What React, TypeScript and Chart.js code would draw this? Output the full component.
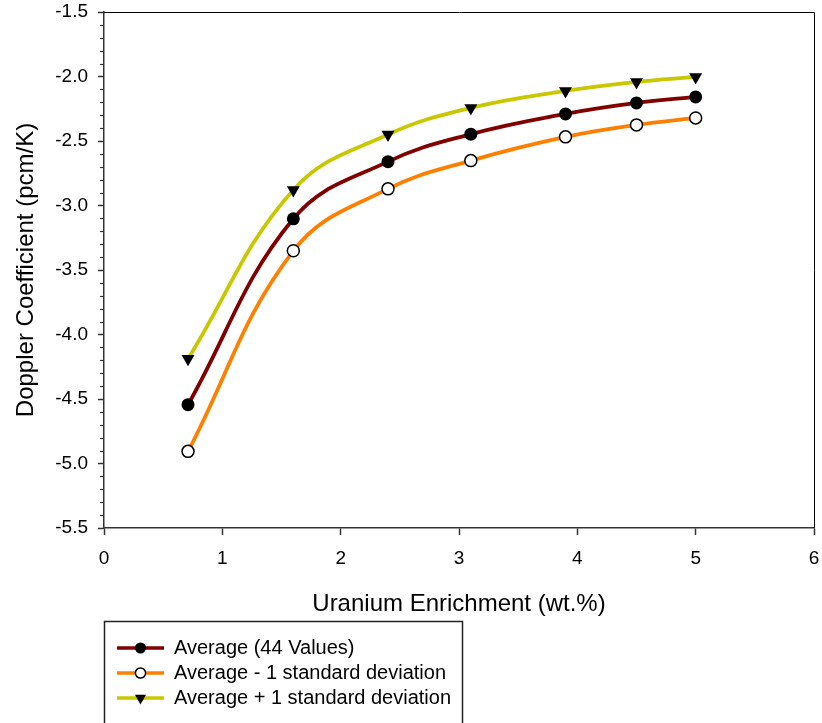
import React, { useEffect, useRef } from "react";
import { Chart, registerables } from "chart.js";

Chart.register(...registerables);

const enrichment = [0.71, 1.6, 2.4, 3.1, 3.9, 4.5, 5.0];
const averageValues = [-4.544, -3.103, -2.66, -2.447, -2.29, -2.205, -2.158];
const minusSdValues = [-4.906, -3.351, -2.871, -2.652, -2.468, -2.375, -2.321];
const plusSdValues = [-4.188, -2.879, -2.45, -2.244, -2.112, -2.042, -2.003];
const seriesLabels = [
  "Average (44 Values)",
  "Average - 1 standard deviation",
  "Average + 1 standard deviation",
];
const xTitle = "Uranium Enrichment (wt.%)";
const yTitle = "Doppler Coefficient (pcm/K)";

const FONT = "'Liberation Sans', Arial, Helvetica, sans-serif";

const COLORS = ["#800000", "#FF8000", "#C8C800"];

function drawMarker(ctx: CanvasRenderingContext2D, kind: number, x: number, y: number, scale: number) {
  ctx.save();
  ctx.lineWidth = 1.5;
  ctx.strokeStyle = "#000";
  if (kind === 0) {
    ctx.beginPath();
    ctx.arc(x, y, 6.5 * scale, 0, Math.PI * 2);
    ctx.fillStyle = "#000";
    ctx.fill();
  } else if (kind === 1) {
    ctx.beginPath();
    ctx.arc(x, y, 6 * scale, 0, Math.PI * 2);
    ctx.fillStyle = "#fff";
    ctx.fill();
    ctx.stroke();
  } else {
    const r = 7.5 * scale;
    ctx.beginPath();
    ctx.moveTo(x - r * Math.sin(Math.PI / 3), y - r / 2);
    ctx.lineTo(x + r * Math.sin(Math.PI / 3), y - r / 2);
    ctx.lineTo(x, y + r);
    ctx.closePath();
    ctx.fillStyle = "#000";
    ctx.fill();
  }
  ctx.restore();
}

const framePlugin = {
  id: "framePlugin",
  afterDraw(chart: any) {
    const { ctx, chartArea } = chart;
    const y = chart.scales.y;
    ctx.save();
    ctx.strokeStyle = "#000";
    ctx.lineWidth = 1;
    ctx.beginPath();
    ctx.moveTo(chartArea.left, chartArea.top + 0.5);
    ctx.lineTo(chartArea.right + 0.5, chartArea.top + 0.5);
    ctx.lineTo(chartArea.right + 0.5, chartArea.bottom);
    ctx.stroke();
    ctx.strokeStyle = "#333";
    ctx.lineWidth = 1.2;
    for (let k = 0; k <= 40; k++) {
      if (k % 5 === 0) continue;
      const v = -5.5 + k * 0.1;
      const py = Math.round(y.getPixelForValue(v)) + 0.5;
      ctx.beginPath();
      ctx.moveTo(chartArea.left - 4, py);
      ctx.lineTo(chartArea.left, py);
      ctx.stroke();
    }
    const bx = 104.5;
    const by = 621.5;
    ctx.strokeStyle = "#222";
    ctx.lineWidth = 1.5;
    ctx.strokeRect(bx, by, 358, 140);
    const rows = [648, 673, 698];
    [0, 1, 2].forEach((i, r) => {
      const ry = rows[r];
      ctx.strokeStyle = COLORS[i];
      ctx.lineWidth = 3.5;
      ctx.beginPath();
      ctx.moveTo(117, ry);
      ctx.lineTo(164, ry);
      ctx.stroke();
      drawMarker(ctx, i, 140.5, ry, 0.85);
      ctx.fillStyle = "#000";
      ctx.font = `20px ${FONT}`;
      ctx.textBaseline = "middle";
      ctx.textAlign = "left";
      ctx.fillText(seriesLabels[i], 174, ry);
    });
    ctx.restore();
  },
};

export default function App() {
  const ref = useRef<HTMLCanvasElement | null>(null);
  useEffect(() => {
    if (!ref.current) return;
    const mk = (data: number[]) => data.map((v, i) => ({ x: enrichment[i], y: v }));
    const chart = new Chart(ref.current, {
      type: "line",
      data: {
        datasets: [
          {
            label: seriesLabels[2],
            data: mk(plusSdValues),
            borderColor: COLORS[2],
            borderWidth: 3.8,
            tension: 0.4,
            pointStyle: "triangle",
            pointRotation: 180,
            pointRadius: 7.5,
            pointBackgroundColor: "#000",
            pointBorderColor: "#000",
            pointBorderWidth: 0,
          },
          {
            label: seriesLabels[0],
            data: mk(averageValues),
            borderColor: COLORS[0],
            borderWidth: 3.8,
            tension: 0.4,
            pointStyle: "circle",
            pointRadius: 6.5,
            pointBackgroundColor: "#000",
            pointBorderColor: "#000",
            pointBorderWidth: 0,
          },
          {
            label: seriesLabels[1],
            data: mk(minusSdValues),
            borderColor: COLORS[1],
            borderWidth: 3.8,
            tension: 0.4,
            pointStyle: "circle",
            pointRadius: 6,
            pointBackgroundColor: "#fff",
            pointBorderColor: "#000",
            pointBorderWidth: 1.5,
          },
        ],
      },
      options: {
        animation: false,
        responsive: false,
        maintainAspectRatio: false,
        layout: { padding: { left: 0, right: 8, top: 12, bottom: 100 } },
        plugins: {
          legend: { display: false },
          tooltip: { enabled: false },
        },
        scales: {
          x: {
            type: "linear",
            min: 0,
            max: 6,
            afterFit: (s: any) => {
              s.height = 95;
              s.paddingLeft = 0;
              s.paddingRight = 0;
              s.paddingTop = 0;
              s.paddingBottom = 0;
            },
            ticks: {
              stepSize: 1,
              color: "#000",
              padding: 12,
              font: { family: FONT, size: 19 },
              maxRotation: 0,
            },
            grid: {
              drawOnChartArea: false,
              drawTicks: true,
              tickLength: 7,
              tickColor: "#333",
              tickWidth: 1.5,
            },
            border: { display: true, color: "#333", width: 1.5 },
            title: {
              display: true,
              text: xTitle,
              color: "#000",
              font: { family: FONT, size: 24 },
              padding: { top: 0, bottom: 4 },
            },
          },
          y: {
            type: "linear",
            min: -5.5,
            max: -1.5,
            afterFit: (s: any) => {
              s.width = 104;
              s.paddingLeft = 0;
              s.paddingRight = 0;
              s.paddingTop = 0;
              s.paddingBottom = 0;
            },
            ticks: {
              stepSize: 0.5,
              color: "#000",
              padding: 10,
              font: { family: FONT, size: 19 },
              callback: (v: any) => Number(v).toFixed(1),
            },
            grid: {
              drawOnChartArea: false,
              drawTicks: true,
              tickLength: 6,
              tickColor: "#333",
              tickWidth: 1.5,
            },
            border: { display: true, color: "#333", width: 1.5 },
            title: {
              display: true,
              text: yTitle,
              color: "#000",
              font: { family: FONT, size: 24 },
              padding: { top: 12, bottom: 0 },
            },
          },
        },
      },
      plugins: [framePlugin],
    });
    return () => chart.destroy();
  }, []);
  return (
    <div style={{ position: "absolute", left: 0, top: 0, width: 822, height: 723, background: "#fff" }}>
      <canvas ref={ref} width={822} height={723} style={{ display: "block", width: 822, height: 723 }} />
    </div>
  );
}
